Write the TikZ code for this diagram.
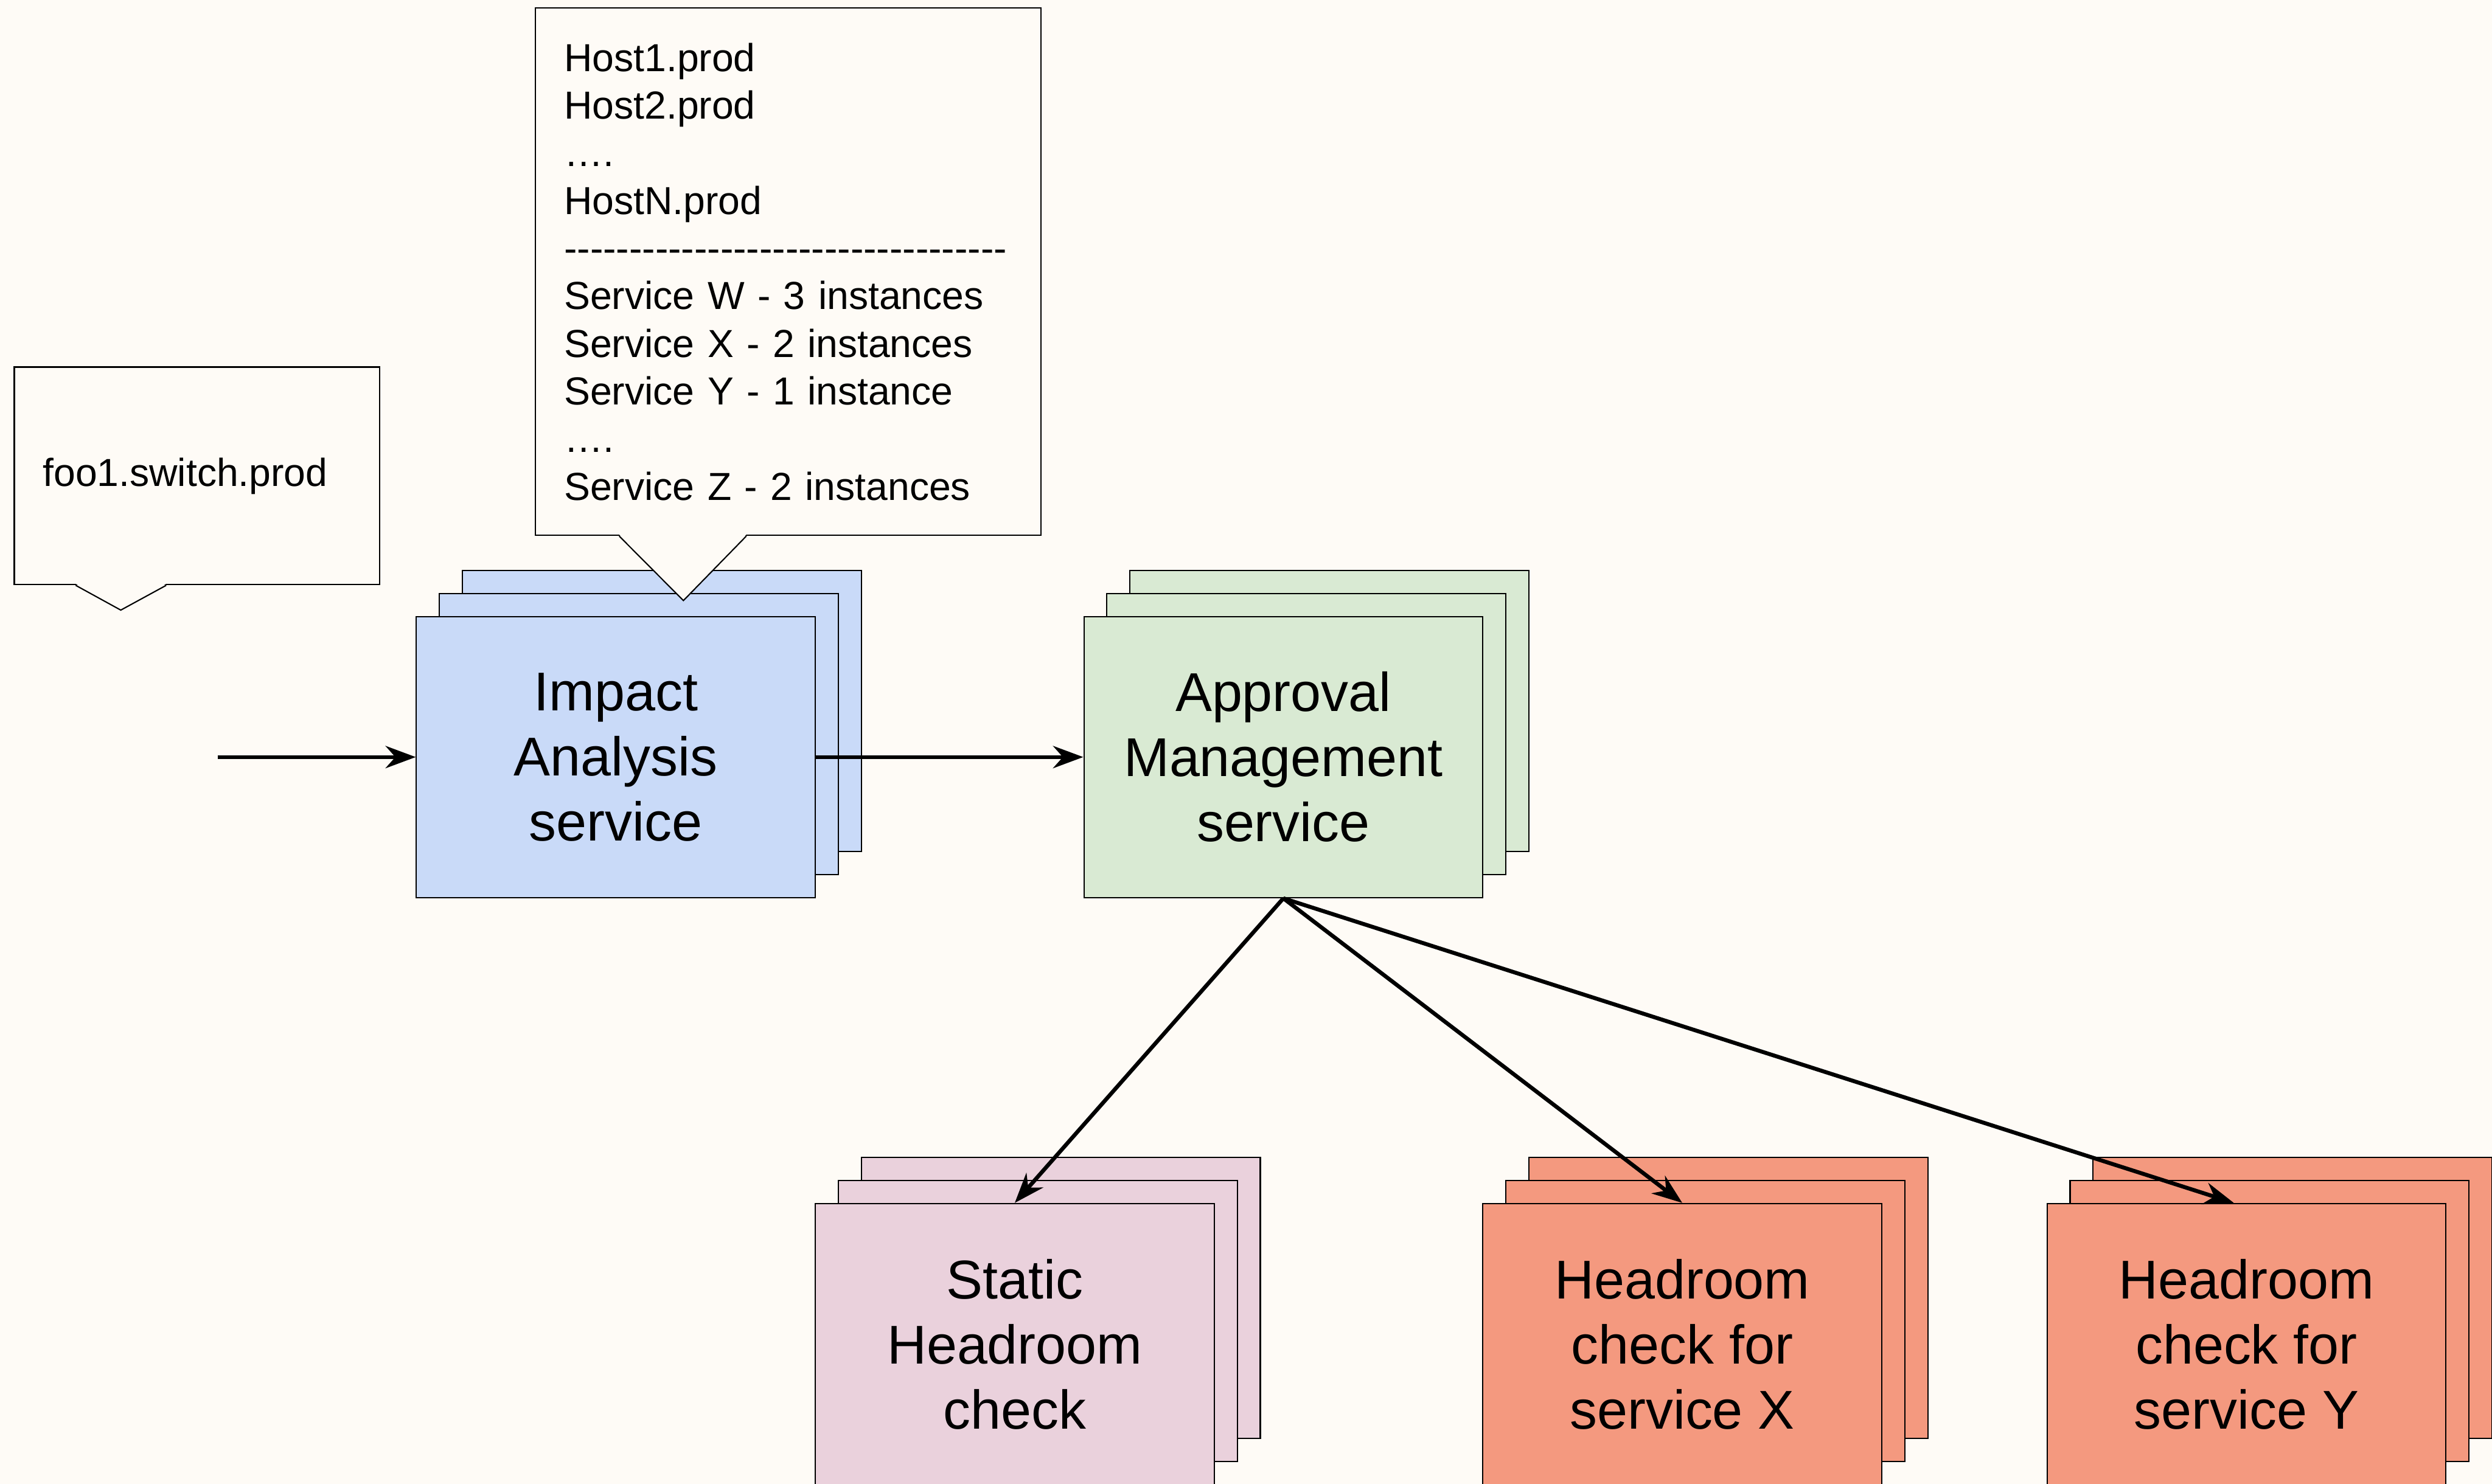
\documentclass[tikz,border=0pt]{standalone}
\usepackage{fontspec}
\setmainfont{Liberation Sans}
\newfontfamily\notefont{Liberation Sans}
\usetikzlibrary{arrows.meta, calc}

\definecolor{paper}{HTML}{FEFBF6}
\definecolor{impactblue}{HTML}{C9DAF8}
\definecolor{approvalgreen}{HTML}{D9EAD3}
\definecolor{staticpink}{HTML}{EAD1DC}
\definecolor{headroomred}{HTML}{F4997F}

\begin{document}
\begin{tikzpicture}[x=0.5pt, y=-0.5pt,
  svc/.style={draw=black, line width=0.4pt, minimum width=125.5pt,
    minimum height=88.5pt, inner sep=0pt, align=center,
    font=\fontsize{17.2}{20.5}\selectfont},
  note/.style={draw=black, line width=0.4pt, fill=paper, align=left,
    inner xsep=9pt, inner ysep=0pt, font=\notefont\fontsize{12.3}{15}\selectfont},
  flow/.style={-{Stealth[length=9.5pt, width=7pt]}, line width=1.25pt}]

  % page
  \fill[paper] (0,0) rectangle (1568,934);
  \useasboundingbox (0,0) rectangle (1568,934);

  % two copies stacked behind every service box
  \foreach \x/\y/\c in {262/388/impactblue, 682/388/approvalgreen,
      513/757.5/staticpink, 933/757.5/headroomred, 1288/757.5/headroomred}
    \foreach \d in {29,14.5}
      \draw[line width=0.4pt, fill=\c] (\x+\d,\y-\d) rectangle ++(251,177);

  % services
  \node[svc, fill=impactblue] (impact) at (387.5,476.5) {Impact\\Analysis\\service};
  \node[svc, fill=approvalgreen] (approval) at (807.5,476.5) {Approval\\Management\\service};
  \node[svc, fill=staticpink] (static) at (638.5,846) {Static\\Headroom\\check};
  \node[svc, fill=headroomred] (hdx) at (1058.5,846) {Headroom\\check for\\service X};
  \node[svc, fill=headroomred] (hdy) at (1413.5,846) {Headroom\\check for\\service Y};

  % request flow
  \coordinate (in) at (137,476.5);
  \draw[flow] (in) -- (impact.west);
  \draw[flow] (impact.east) -- (approval.west);
  \draw[flow] (approval.south) -- (static.north);
  \draw[flow] (approval.south) -- (hdx.north);
  \draw[flow] (approval.south) -- ([xshift=-4pt]hdy.north);

  % callouts
  \node[note, text width=97pt, minimum height=68.5pt] (switch) at (124,299.5)
    {foo1.switch.prod};
  \node[note, text width=141pt, minimum height=166pt] (hosts) at (496,171)
    {Host1.prod\\Host2.prod\\….\\HostN.prod\\
     ----------------------------------\\
     Service W - 3 instances\\Service X - 2 instances\\Service Y - 1 instance\\
     ….\\Service Z - 2 instances};

  % callout pointers
  \coordinate (switchtip) at (76,384);
  \coordinate (hoststip) at (430,378);
  \fill[paper] ($(switch.south west)+(39,-1)$) -- (switchtip)
    -- ($(switch.south west)+(96,-1)$) -- cycle;
  \draw[line width=0.4pt] ($(switch.south west)+(39,0)$) -- (switchtip)
    -- ($(switch.south west)+(96,0)$);
  \fill[paper] ($(hosts.south west)+(53,-1)$) -- (hoststip)
    -- ($(hosts.south west)+(133,-1)$) -- cycle;
  \draw[line width=0.4pt] ($(hosts.south west)+(53,0)$) -- (hoststip)
    -- ($(hosts.south west)+(133,0)$);
\end{tikzpicture}
\end{document}
